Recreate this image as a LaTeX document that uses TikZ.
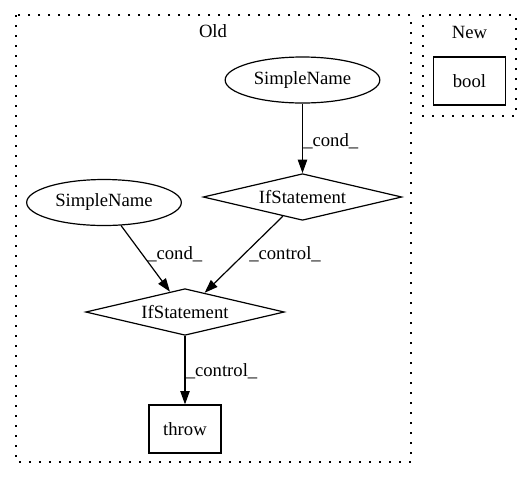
\documentclass[tikz,border=0pt]{standalone}
\usepackage{fontspec}
\setmainfont{Liberation Serif}
\usetikzlibrary{shapes.geometric,arrows.meta}
\begin{document}
\begin{tikzpicture}[x=0.75pt,y=-0.75pt,
  every node/.style={font=\fontsize{14}{16}\selectfont},
  cluster/.style={draw,line width=0.9pt,dash pattern=on 1.3pt off 6.2pt},
  ell/.style={draw,line width=0.9pt,ellipse,inner sep=0pt,minimum width=116pt,minimum height=34.5pt},
  dia/.style={draw,line width=0.9pt,diamond,aspect=4.25,inner sep=0pt,minimum width=149pt,minimum height=35pt},
  boxn/.style={draw,line width=0.9pt,rectangle,inner sep=0pt,minimum width=54pt,minimum height=36pt},
  lbl/.style={anchor=west,inner sep=0pt},
  edge/.style={draw,line width=0.9pt,-{Triangle[length=10pt,width=7pt]}}]
\useasboundingbox (0,0) rectangle (532,480);
\draw[cluster] (16,15) rectangle (411,462);
\draw[cluster] (423,15) rectangle (516,116);
\node (old) at (213,31) {Old};
\node (new) at (469.5,32) {New};
\node[boxn] (bool) at (469.5,81) {bool};
\node[ell] (sn1) at (302.5,80) {SimpleName};
\node[dia] (if1) at (302.5,197) {IfStatement};
\node[ell] (sn2) at (104,202.5) {SimpleName};
\node[dia] (if2) at (185,312) {IfStatement};
\node[boxn] (throw) at (185,429) {throw};
\path[edge] (sn1) -- (if1);
\path[edge] (sn2) -- (if2);
\path[edge] (if1) -- (if2);
\path[edge] (if2) -- (throw);
\node[lbl] (l1) at (303,141) {\_cond\_};
\node[lbl] (l2) at (147,254) {\_cond\_};
\node[lbl] (l3) at (249,254) {\_control\_};
\node[lbl] (l4) at (185.5,371) {\_control\_};
\end{tikzpicture}
\end{document}
